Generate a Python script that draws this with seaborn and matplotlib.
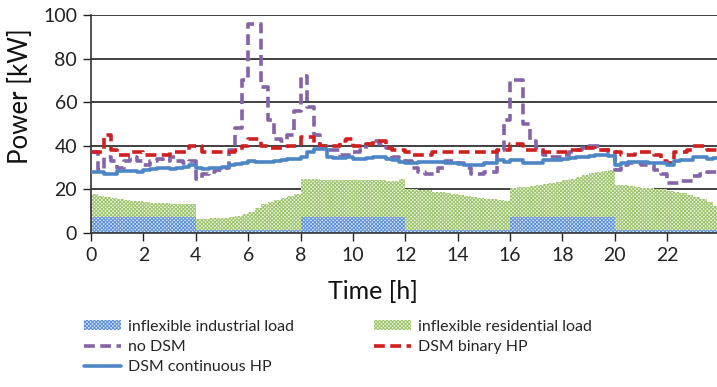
import numpy as np
import pandas as pd
import matplotlib
matplotlib.use("Agg")
import matplotlib.pyplot as plt
import seaborn as sns
from matplotlib.patches import Patch
from matplotlib.lines import Line2D

# ---- data (15-min resolution, 0 .. 23.75 h) ----
hours = [i * 0.25 for i in range(96)]

industrial = ([7.5] * 16 + [1.2] * 16 + [7.5] * 16 + [1.2] * 16 + [7.5] * 16 + [1.2] * 16)

# top of the stacked area (industrial + residential)
total_load = [
    17.7, 17.0, 16.5, 16.0, 15.5, 15.0, 14.8, 14.5, 14.0, 13.8, 13.7, 13.6, 13.5, 13.5, 13.5, 13.5,
    6.5, 6.5, 6.7, 6.8, 7.0, 7.2, 7.8, 8.5, 9.8, 11.5, 13.2, 14.4, 15.3, 16.2, 17.0, 17.8,
    24.6, 24.6, 24.6, 24.5, 24.5, 24.5, 24.4, 24.4, 24.3, 24.3, 24.3, 24.2, 24.2, 24.0, 24.0, 24.6,
    20.0, 20.0, 19.8, 19.5, 19.0, 18.6, 18.2, 17.8, 17.4, 17.0, 16.6, 16.2, 15.8, 15.4, 15.0, 14.5,
    20.8, 21.0, 21.2, 21.5, 21.9, 22.3, 22.8, 23.4, 24.2, 25.0, 25.8, 26.6, 27.3, 28.0, 28.6, 29.0,
    22.2, 21.8, 21.5, 21.2, 20.8, 20.5, 20.2, 20.0, 19.4, 18.8, 18.2, 17.5, 16.5, 15.5, 14.2, 12.5,
]
residential = [tot - ind for tot, ind in zip(total_load, industrial)]

no_dsm = [
    37, 29, 35, 33, 30, 33, 35, 33, 31, 33, 34, 33, 35, 33, 32, 33,
    25, 27, 28, 29, 30, 38, 48, 70, 96, 96, 67, 52, 43, 42, 45, 56,
    72, 58, 45, 40, 38, 38, 36, 36, 37, 38, 41, 42, 41, 39, 35, 34,
    33, 30, 28, 27, 27, 30, 33, 33, 32, 30, 27, 27, 28, 28, 38, 52,
    70, 70, 50, 42, 39, 36, 35, 35, 36, 37, 38, 39, 40, 40, 38, 37,
    29, 31, 32, 32, 31, 31, 29, 27, 23, 23, 24, 24, 26, 27, 28, 28,
]

dsm_binary = [
    37, 37, 45, 38, 36, 36, 37, 37, 36, 36, 36, 36, 37, 37, 37, 40,
    40, 37, 37, 37, 37, 37, 38, 40, 43, 43, 40, 39, 39, 39, 40, 40,
    44, 44, 41, 40, 40, 40, 42, 43, 40, 40, 41, 42, 42, 39, 38, 38,
    37, 36, 36, 36, 37, 37, 37, 37, 37, 37, 37, 37, 37, 37, 38, 38,
    41, 41, 38, 38, 38, 37, 37, 37, 37, 38, 38, 39, 39, 38, 38, 38,
    37, 36, 36, 37, 37, 37, 36, 33, 32, 37, 37, 38, 40, 40, 38, 38,
]

dsm_continuous = [
    28, 28, 27, 27, 28.5, 28.5, 28.5, 28, 29, 29.5, 30, 30, 29.5, 30, 30.5, 31,
    30, 29.5, 30, 30, 30.5, 31, 31.5, 32, 33, 32.5, 32.5, 32.5, 33, 33.5, 34, 34,
    35, 37, 38.5, 38.5, 35, 34.5, 34.5, 35, 34, 34, 34.5, 35, 35, 34, 33.5, 32.5,
    32, 32, 32.5, 32.5, 32.5, 32.5, 32, 32, 31.5, 31, 31, 31, 32, 32, 33.5, 32.5,
    33.5, 33.5, 32, 32, 32, 33.5, 33.5, 33.5, 34, 34.5, 35, 35, 35.5, 36, 36, 35.5,
    31, 32, 32.5, 32.5, 32.5, 32, 32, 32, 31, 33, 33.5, 33.5, 35, 35, 34, 34.5,
]

x_ticks = list(range(0, 24, 2))
y_ticks = [0, 20, 40, 60, 80, 100]

labels = ["inflexible industrial load", "inflexible residential load",
          "no DSM", "DSM binary HP", "DSM continuous HP"]

# ---- style ----
sns.set_theme(style="white")
plt.rcParams["font.family"] = ["Lato", "DejaVu Sans"]
plt.rcParams["hatch.linewidth"] = 0.7

C_IND_FACE, C_IND_HATCH = "#dbe6f6", "#5b8fd6"
C_RES_FACE, C_RES_HATCH = "#eef5e3", "#9cc46a"
C_NODSM = "#8563a8"
C_BIN = "#cf1f1f"
C_CONT = "#4d86c6"
DASH = (0, (3.0, 1.5))
HATCH = "x" * 9

fig = plt.figure(figsize=(7.17, 3.87), dpi=100)
ax = fig.add_axes([0.127, 0.398, 0.873, 0.563])

# extend one step so the last 15-min interval is drawn
t_ext = hours + [hours[-1] + 0.25]
ext = lambda v: list(v) + [v[-1]]

ind_e = np.array(ext(industrial))
tot_e = ind_e + np.array(ext(residential))

ax.fill_between(t_ext, 0, ind_e, step="post", facecolor=C_IND_FACE,
                edgecolor=C_IND_HATCH, hatch=HATCH, linewidth=0, zorder=2)
ax.fill_between(t_ext, ind_e, tot_e, step="post", facecolor=C_RES_FACE,
                edgecolor=C_RES_HATCH, hatch=HATCH, linewidth=0, zorder=2)

df = pd.DataFrame({"t": t_ext, "no": ext(no_dsm), "bin": ext(dsm_binary),
                   "cont": ext(dsm_continuous)})

sns.lineplot(data=df, x="t", y="no", ax=ax, color=C_NODSM, lw=2.6,
             drawstyle="steps-post", zorder=3)
ax.lines[-1].set_linestyle(DASH)
sns.lineplot(data=df, x="t", y="bin", ax=ax, color=C_BIN, lw=2.6,
             drawstyle="steps-post", zorder=4)
ax.lines[-1].set_linestyle(DASH)
sns.lineplot(data=df, x="t", y="cont", ax=ax, color=C_CONT, lw=2.6,
             drawstyle="steps-post", zorder=5)

ax.set_xlim(0, 23.9)
ax.set_ylim(0, 100)
ax.set_xticks(x_ticks)
ax.set_yticks(y_ticks)
ax.tick_params(axis="both", labelsize=14, colors="#222222", length=6, width=1,
               direction="out", bottom=True, left=True, pad=4)
ax.yaxis.grid(True, color="#333333", linewidth=1.3, zorder=0)
ax.set_axisbelow(True)
for s in ["top", "right"]:
    ax.spines[s].set_visible(False)
for s in ["left", "bottom"]:
    ax.spines[s].set_color("#333333")
    ax.spines[s].set_linewidth(1.2)

ax.set_xlabel("Time [h]", fontsize=18, color="#111111")
ax.set_ylabel("Power [kW]", fontsize=18.5, color="#111111")
ax.xaxis.set_label_coords(0.45, -0.215)
ax.yaxis.set_label_coords(-0.093, 0.63)

handles = [
    Patch(facecolor=C_IND_FACE, edgecolor=C_IND_HATCH, hatch=HATCH, linewidth=0),
    Line2D([], [], color=C_NODSM, lw=2.6, linestyle=DASH),
    Line2D([], [], color=C_CONT, lw=2.6),
    Patch(facecolor=C_RES_FACE, edgecolor=C_RES_HATCH, hatch=HATCH, linewidth=0),
    Line2D([], [], color=C_BIN, lw=2.6, linestyle=DASH),
]
hl = [labels[0], labels[2], labels[4], labels[1], labels[3]]
fig.legend(handles, hl, loc="upper left", bbox_to_anchor=(0.108, 0.19),
           ncol=2, frameon=False, fontsize=11.5, handlelength=2.35,
           handleheight=0.55, handletextpad=0.4, columnspacing=5.0,
           labelspacing=0.38, borderaxespad=0)

fig.savefig("out.png", dpi=100)
